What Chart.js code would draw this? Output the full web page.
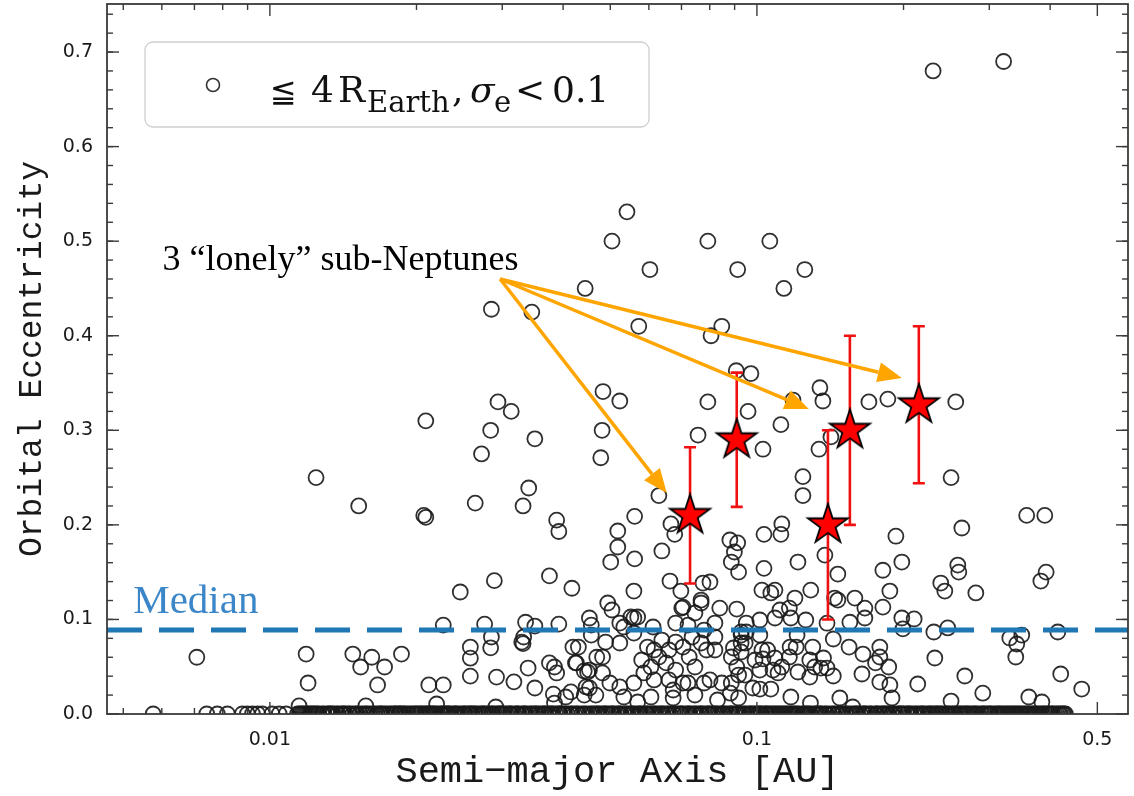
<!DOCTYPE html>
<html>
<head>
<meta charset="utf-8">
<title>Orbital eccentricity vs semi-major axis</title>
<script src="https://cdn.jsdelivr.net/npm/chart.js@4.4.1/dist/chart.umd.min.js"></script>
<style>
  html, body { margin: 0; padding: 0; background: #fff; }
  #wrap { width: 1134px; height: 796px; }
</style>
</head>
<body>
<div id="wrap"><canvas id="chart" width="1134" height="796"></canvas></div>
<script>
// Planets <= 4 R_Earth with sigma_e < 0.1 : [semi-major axis (AU), eccentricity]
const eccPlanets = [
  [0.23,0.68],[0.321,0.69],
  [0.0541,0.531],[0.0504,0.50],[0.0793,0.50],[0.1063,0.50],
  [0.0603,0.47],[0.0913,0.47],[0.1254,0.47],[0.0444,0.45],[0.1136,0.45],
  [0.0285,0.428],[0.0345,0.425],[0.0572,0.41],[0.0847,0.41],[0.0805,0.40],
  [0.0907,0.363],[0.0972,0.36],[0.0483,0.341],[0.0523,0.331],[0.1186,0.332],
  [0.1347,0.345],[0.1366,0.331],[0.0793,0.33],[0.0959,0.32],[0.112,0.306],
  [0.0481,0.30],[0.0757,0.295],[0.1029,0.28],[0.0478,0.271],[0.0629,0.231],
  [0.1243,0.251],[0.1243,0.231],[0.1341,0.28],[0.1419,0.293],[0.1698,0.33],
  [0.1857,0.333],[0.256,0.33],[0.2504,0.25],[0.0561,0.209],[0.0388,0.205],
  [0.0294,0.33],[0.0313,0.32],[0.0209,0.31],[0.0284,0.30],[0.035,0.291],
  [0.0272,0.275],[0.01244,0.25],[0.01522,0.22],[0.0207,0.21],[0.0209,0.208],
  [0.0264,0.223],[0.0331,0.22],[0.034,0.239],[0.0392,0.193],[0.0375,0.146],
  [0.0289,0.141],[0.0246,0.129],[0.0417,0.133],[0.0227,0.094],[0.0276,0.095],
  [0.0335,0.097],[0.035,0.093],[0.0392,0.095],[0.0453,0.1015],[0.0457,0.094],
  [0.0457,0.0835],[0.0285,0.0814],[0.0284,0.07],[0.0258,0.0708],[0.0258,0.059],
  [0.0258,0.04],[0.0292,0.039],[0.0317,0.034],[0.035,0.0275],[0.0339,0.0486],
  [0.0329,0.076],[0.0331,0.0745],[0.0332,0.0814],[0.0384,0.0497],[0.0382,0.021],
  [0.0384,0.0116],[0.0419,0.0708],[0.043,0.0708],[0.0424,0.054],[0.0442,0.0455],
  [0.0449,0.0444],[0.0442,0.02],[0.0453,0.0275],[0.0469,0.06],[0.01187,0.0634],
  [0.01198,0.0328],[0.0148,0.0634],[0.01536,0.0497],[0.01619,0.06],[0.0172,0.0497],
  [0.01664,0.0307],[0.01863,0.0634],[0.0212,0.0307],[0.0227,0.0307],[0.022,0.0106],
  [0.0291,0.0074],[0.01148,0.0085],[0.01574,0.0085],[0.00708,0.06],
  [0.0518,0.1935],[0.0666,0.201],[0.0678,0.19],[0.0518,0.1766],[0.0501,0.1607],
  [0.0561,0.164],[0.0638,0.1724],[0.0559,0.13],[0.0663,0.1406],[0.0698,0.13],
  [0.0775,0.1385],[0.0801,0.1396],[0.088,0.184],[0.0913,0.181],[0.0899,0.1713],
  [0.0886,0.1607],[0.0917,0.15],[0.1034,0.19],[0.112,0.19],[0.1125,0.201],
  [0.1034,0.154],[0.1214,0.1607],[0.1379,0.168],[0.1466,0.148],[0.1929,0.188],
  [0.1984,0.1607],[0.1814,0.152],[0.1875,0.13],[0.2635,0.1967],[0.358,0.21],
  [0.39,0.21],[0.2585,0.1575],[0.2597,0.15],[0.2385,0.1385],[0.2431,0.13],
  [0.2815,0.128],[0.3925,0.15],[0.3828,0.1406],[0.0559,0.1015],[0.0494,0.1174],
  [0.0504,0.11],[0.0551,0.1026],[0.0705,0.113],[0.0768,0.1205],[0.0839,0.112],
  [0.0909,0.111],[0.1024,0.131],[0.1089,0.131],[0.1068,0.128],[0.129,0.131],
  [0.1197,0.1226],[0.1466,0.1205],[0.1589,0.1226],[0.1666,0.112],[0.1666,0.1015],
  [0.1814,0.113],[0.1552,0.097],[0.126,0.0994],[0.1393,0.096],[0.1984,0.1015],
  [0.2103,0.1005],[0.1994,0.09],[0.2308,0.0867],[0.2465,0.091],[0.2319,0.0592],
  [0.2672,0.0402],[0.2139,0.0317],[0.2909,0.022],[0.2504,0.0137],[0.3305,0.0804],
  [0.3498,0.0835],[0.3416,0.074],[0.34,0.0603],[0.4148,0.0867],[0.4205,0.0423],
  [0.4644,0.0264],[0.3616,0.018],[0.3847,0.0127],[0.1788,0.0708],[0.1788,0.0603],
  [0.1865,0.0497],[0.1752,0.054],[0.1788,0.0338],[0.1875,0.0307],[0.1894,0.0169],
  [0.1651,0.0634],[0.1643,0.0423],[0.1546,0.0708],[0.1435,0.0793],[0.137,0.0592],
  [0.1353,0.0486],[0.1393,0.0486],[0.1435,0.0402],[0.1302,0.0708],[0.1284,0.0571],
  [0.1314,0.0497],[0.1284,0.039],[0.1214,0.0444],[0.148,0.0169],[0.1573,0.0074],
  [0.1174,0.018],[0.1288,0.0116],[0.1209,0.0835],[0.1204,0.0708],[0.117,0.0708],
  [0.1166,0.0603],[0.1125,0.0497],[0.1089,0.0592],[0.1052,0.0677],[0.1029,0.0582],
  [0.0991,0.0571],[0.1014,0.0465],[0.1079,0.0465],[0.1105,0.0434],[0.1014,0.0264],
  [0.1068,0.0264],[0.0981,0.0275],[0.0917,0.0412],[0.0945,0.0412],[0.0909,0.0497],
  [0.0886,0.0603],[0.0895,0.0698],[0.0928,0.0751],[0.0928,0.0835],[0.0886,0.0328],
  [0.0882,0.022],[0.0917,0.0169],[0.082,0.0962],[0.082,0.0814],[0.082,0.0677],
  [0.0779,0.0888],[0.0768,0.0751],[0.0788,0.0677],[0.0736,0.0814],[0.0705,0.0708],
  [0.0726,0.0603],[0.0746,0.0497],[0.0801,0.036],[0.0779,0.0328],[0.0722,0.0328],
  [0.0746,0.0201],[0.0681,0.0465],[0.0651,0.054],[0.0629,0.0603],[0.066,0.0677],
  [0.0615,0.0677],[0.0596,0.0708],[0.0638,0.0782],[0.0681,0.0761],[0.0612,0.092],
  [0.0681,0.0962],[0.0722,0.094],[0.0701,0.112],[0.0746,0.1068],[0.0569,0.1026],
  [0.0533,0.092],[0.0606,0.0497],[0.0586,0.0434],[0.0615,0.036],[0.066,0.036],
  [0.0673,0.0254],[0.0523,0.0962],[0.0559,0.0856],[0.0523,0.0751],[0.0489,0.0761],
  [0.0482,0.0603],[0.0482,0.0434],[0.0375,0.054],[0.0388,0.0434],[0.0426,0.054],
  [0.0453,0.0465],[0.0446,0.0286],[0.0467,0.02],[0.0415,0.0233],[0.0405,0.018],
  [0.0499,0.0328],[0.0523,0.0286],[0.0533,0.018],[0.0559,0.0328],[0.0569,0.0127],
  [0.0606,0.018],[0.058,0.0571],[0.083,0.0148],[0.0847,0.0328],[0.0705,0.0328],
  [0.0673,0.0169],[0.0768,0.1174],[0.1014,0.0994],[0.1089,0.1015],[0.1115,0.11],
  [0.1166,0.112],[0.1174,0.1015],[0.1444,0.1226],[0.0951,0.0962],[0.0928,0.0867],
  [0.0951,0.0867],[0.0946,0.0751],[0.0928,0.0656],[0.1014,0.0835],[0.1024,0.0677]
];

// planets with e = 0 (semi-major axis, AU); they pile up into a solid band
const circularSemiMajor = [
  0.00576, 0.00742, 0.0078, 0.00818, 0.00878, 0.00899, 0.00921, 0.00944, 0.00965, 0.0101, 0.01045, 0.0108,
  0.0114, 0.0116, 0.0117, 0.0120, 0.0122, 0.0123, 0.0126, 0.0128, 0.0131, 0.0133, 0.0134, 0.0137,
  0.0140, 0.0142, 0.0145, 0.0148, 0.0150, 0.0151, 0.0155, 0.0157, 0.0160, 0.0164, 0.0166, 0.0169,
  0.0172, 0.0176, 0.0178, 0.0181, 0.0185, 0.0189, 0.0191, 0.0195, 0.0199, 0.0202, 0.0205, 0.0210,
  0.0213, 0.0216, 0.0221, 0.0225, 0.0229, 0.0233, 0.0238, 0.0241, 0.0246, 0.0251, 0.0255, 0.0259,
  0.0264, 0.0270, 0.0274, 0.0279, 0.0285, 0.0289, 0.0295, 0.0300, 0.0306, 0.0311, 0.0317, 0.0322,
  0.0329, 0.0334, 0.0341, 0.0347, 0.0352, 0.0360, 0.0366, 0.0373, 0.0379, 0.0386, 0.0393, 0.0400,
  0.0408, 0.0414, 0.0422, 0.0430, 0.0437, 0.0446, 0.0453, 0.0462, 0.0470, 0.0479, 0.0487, 0.0496,
  0.0505, 0.0515, 0.0523, 0.0534, 0.0543, 0.0553, 0.0563, 0.0574, 0.0583, 0.0594, 0.0605, 0.0616,
  0.0627, 0.0639, 0.0650, 0.0663, 0.0674, 0.0687, 0.0699, 0.0712, 0.0725, 0.0739, 0.0752, 0.0766,
  0.0780, 0.0794, 0.0809, 0.0823, 0.0839, 0.0854, 0.0869, 0.0886, 0.0901, 0.0918, 0.0935, 0.0952,
  0.0969, 0.0987, 0.1005, 0.1023, 0.1042, 0.1061, 0.108, 0.110, 0.112, 0.114, 0.116, 0.118,
  0.120, 0.122, 0.125, 0.127, 0.129, 0.132, 0.134, 0.136, 0.139, 0.141, 0.144, 0.147,
  0.149, 0.152, 0.155, 0.157, 0.160, 0.163, 0.166, 0.169, 0.172, 0.176, 0.179, 0.182,
  0.185, 0.189, 0.192, 0.196, 0.199, 0.203, 0.206, 0.210, 0.214, 0.218, 0.222, 0.226,
  0.230, 0.234, 0.238, 0.243, 0.247, 0.252, 0.256, 0.261, 0.266, 0.270, 0.275, 0.280,
  0.285, 0.291, 0.296, 0.301, 0.307, 0.313, 0.318, 0.324, 0.330, 0.336, 0.342, 0.348,
  0.355, 0.361, 0.368, 0.374, 0.381, 0.388, 0.395, 0.402, 0.409, 0.417, 0.424, 0.430,
  0.0115, 0.0118, 0.0119, 0.0121, 0.0124, 0.0125, 0.0129, 0.0132, 0.0135, 0.0138, 0.0141, 0.0143,
  0.0146, 0.0153, 0.0158, 0.0162, 0.0168, 0.0170, 0.0174, 0.0180, 0.0182, 0.0184, 0.0186, 0.0188,
  0.0193, 0.0197, 0.0200, 0.0204, 0.0207, 0.0209, 0.0212, 0.0214, 0.0217, 0.0219, 0.0224, 0.0227,
  0.0230, 0.0232, 0.0235, 0.0240, 0.0243, 0.0249, 0.0252, 0.0257, 0.0260, 0.0263, 0.0267, 0.0273,
  0.0276, 0.0282, 0.0286, 0.0292, 0.0296, 0.0299, 0.0303, 0.0310, 0.0313, 0.0321, 0.0324, 0.0332,
  0.0336, 0.0344, 0.0351, 0.0356, 0.0364, 0.0368, 0.0377, 0.0381, 0.0390, 0.0394, 0.0403, 0.0417,
  0.0427, 0.0442, 0.0458, 0.0468, 0.0474, 0.0485, 0.0491, 0.0502, 0.0508, 0.0520, 0.0526, 0.0538,
  0.0551, 0.0557, 0.0570, 0.0577, 0.0590, 0.0597, 0.0611, 0.0619, 0.0633, 0.0641, 0.0656, 0.0679,
  0.0695, 0.0703, 0.0720, 0.0728, 0.0746, 0.0763, 0.0772, 0.0791, 0.0800, 0.0819, 0.0829, 0.0848,
  0.0858, 0.0879, 0.0889, 0.0910, 0.0921, 0.0943, 0.0965, 0.0977, 0.0995, 0.101, 0.102, 0.104,
  0.105, 0.107, 0.109, 0.111, 0.113, 0.115, 0.117, 0.119, 0.121, 0.124, 0.126, 0.128,
  0.131, 0.133, 0.135, 0.138, 0.143, 0.146, 0.150, 0.153, 0.159, 0.161, 0.165, 0.167,
  0.171, 0.175, 0.177, 0.181, 0.183, 0.186, 0.190, 0.195, 0.197, 0.200, 0.204, 0.207,
  0.212, 0.217, 0.220, 0.225, 0.228, 0.233, 0.236, 0.240, 0.245, 0.249, 0.254, 0.259,
  0.263, 0.268, 0.272, 0.278, 0.282, 0.289, 0.293, 0.299, 0.303, 0.310, 0.315, 0.321,
  0.327, 0.333, 0.339, 0.345, 0.351, 0.358, 0.364, 0.371, 0.377, 0.385, 0.391, 0.399,
  0.405, 0.413, 0.420, 0.427
];

// the "lonely" sub-Neptunes
const lonelySemiMajor = [0.0729, 0.0909, 0.1399, 0.1552, 0.215];
const lonelyEcc = [0.21, 0.29, 0.20, 0.30, 0.327];
const lonelyErr = [0.072, 0.071, 0.10, 0.10, 0.083];

const medianEcc = 0.0887;

// annotation arrows (data coords)
const arrowFrom = [0.0297, 0.46];
const arrowTo = [[0.0653, 0.2337], [0.1278, 0.3225], [0.1984, 0.3553]];
const lonelyLabelAt = [0.00602, 0.4695];
const medianLabelAt = [0.00524, 0.1068];

// axes
const xRange = [0.00463, 0.578];
const yRange = [0, 0.7508];
const xTickVals = [0.01, 0.1, 0.5];
const xMinorVals = [0.005, 0.006, 0.007, 0.008, 0.009, 0.02, 0.03, 0.04, 0.05, 0.06, 0.07, 0.08, 0.09, 0.2, 0.3, 0.4];
const yTickVals = [0, 0.1, 0.2, 0.3, 0.4, 0.5, 0.6, 0.7];

const SERIF = '"Liberation Serif", "Times New Roman", serif';
const LEG = '"DejaVu Serif", serif';
const MONO = '"Liberation Mono", "DejaVu Sans Mono", monospace';

function starImage(r) {
  const s = Math.ceil(r * 2 + 4);
  const c = document.createElement('canvas');
  c.width = c.height = s;
  const g = c.getContext('2d');
  g.beginPath();
  for (let i = 0; i < 10; i++) {
    const rad = i % 2 ? r * 0.382 : r;
    const ang = -Math.PI / 2 + i * Math.PI / 5;
    g.lineTo(s / 2 + rad * Math.cos(ang), s / 2 + rad * Math.sin(ang));
  }
  g.closePath();
  g.fillStyle = '#ff0000';
  g.fill();
  g.lineWidth = 1.8;
  g.strokeStyle = '#000';
  g.stroke();
  return c;
}

function drawArrow(ctx, x0, y0, x1, y1) {
  const ang = Math.atan2(y1 - y0, x1 - x0);
  const headLen = 24, headW = 10;
  const bx = x1 - headLen * Math.cos(ang), by = y1 - headLen * Math.sin(ang);
  ctx.beginPath();
  ctx.moveTo(x0, y0);
  ctx.lineTo(bx, by);
  ctx.stroke();
  ctx.beginPath();
  ctx.moveTo(x1, y1);
  ctx.lineTo(bx + headW * Math.sin(ang), by - headW * Math.cos(ang));
  ctx.lineTo(bx - headW * Math.sin(ang), by + headW * Math.cos(ang));
  ctx.closePath();
  ctx.fill();
}

const errorBars = {
  id: 'errorBars',
  beforeDatasetDraw(chart, args) {
    if (args.index !== 2) return;
    const {ctx, scales: {x, y}} = chart;
    ctx.save();
    ctx.strokeStyle = '#f01010';
    ctx.lineWidth = 2.6;
    lonelySemiMajor.forEach((a, i) => {
      const px = x.getPixelForValue(a);
      const top = y.getPixelForValue(lonelyEcc[i] + lonelyErr[i]);
      const bot = y.getPixelForValue(lonelyEcc[i] - lonelyErr[i]);
      ctx.beginPath();
      ctx.moveTo(px, top); ctx.lineTo(px, bot);
      ctx.moveTo(px - 6, top); ctx.lineTo(px + 6, top);
      ctx.moveTo(px - 6, bot); ctx.lineTo(px + 6, bot);
      ctx.stroke();
    });
    ctx.restore();
  }
};

const decorations = {
  id: 'decorations',
  afterDatasetsDraw(chart) {
    const {ctx, chartArea: a, scales: {x, y}} = chart;
    ctx.save();

    // arrows
    ctx.strokeStyle = '#ffa500';
    ctx.fillStyle = '#ffa500';
    ctx.lineWidth = 3.5;
    const x0 = x.getPixelForValue(arrowFrom[0]), y0 = y.getPixelForValue(arrowFrom[1]);
    arrowTo.forEach(t => drawArrow(ctx, x0, y0, x.getPixelForValue(t[0]), y.getPixelForValue(t[1])));

    // annotation texts
    ctx.textBaseline = 'alphabetic';
    ctx.textAlign = 'left';
    ctx.fillStyle = '#000';
    ctx.font = '36px ' + SERIF;
    ctx.fillText('3 \u201clonely\u201d sub-Neptunes', x.getPixelForValue(lonelyLabelAt[0]), y.getPixelForValue(lonelyLabelAt[1]));
    ctx.fillStyle = '#3b86c8';
    ctx.font = '41px ' + SERIF;
    ctx.fillText('Median', x.getPixelForValue(medianLabelAt[0]), y.getPixelForValue(medianLabelAt[1]));

    // legend box
    const lx = a.left + 38, ly = a.top + 38, lw = 504, lh = 85;
    ctx.beginPath();
    ctx.roundRect(lx, ly, lw, lh, 8);
    ctx.fillStyle = 'rgba(255,255,255,0.85)';
    ctx.fill();
    ctx.strokeStyle = '#cfcfcf';
    ctx.lineWidth = 1.3;
    ctx.stroke();
    ctx.beginPath();
    ctx.arc(lx + 68, ly + 43, 6.5, 0, Math.PI * 2);
    ctx.strokeStyle = '#333';
    ctx.lineWidth = 1.6;
    ctx.stroke();
    ctx.fillStyle = '#111';
    const base = ly + 60, sub = ly + 70;
    const piece = (t, dx, yy, font) => { ctx.font = font; ctx.fillText(t, lx + dx, yy); };
    piece('\u2266', 125, base, '32px "DejaVu Sans", sans-serif');
    piece('4', 166, base, '36px ' + LEG);
    piece('R', 193, base, '36px ' + LEG);
    piece('Earth', 222, sub, '29px ' + LEG);
    piece(',', 307, base, '36px ' + LEG);
    piece('\u03c3', 325, base, 'italic 36px ' + LEG);
    piece('e', 349, sub, '29px ' + LEG);
    piece('<', 370, base, '36px ' + LEG);
    piece('0.1', 407, base, '36px ' + LEG);

    // frame and inward ticks on all sides
    ctx.strokeStyle = '#3a3a3a';
    ctx.lineWidth = 1.4;
    const seg = (ax, ay, bx, by) => { ctx.beginPath(); ctx.moveTo(ax, ay); ctx.lineTo(bx, by); ctx.stroke(); };
    xTickVals.forEach(v => { const p = x.getPixelForValue(v); seg(p, a.bottom, p, a.bottom - 12); seg(p, a.top, p, a.top + 12); });
    xMinorVals.forEach(v => { const p = x.getPixelForValue(v); seg(p, a.bottom, p, a.bottom - 6); seg(p, a.top, p, a.top + 6); });
    yTickVals.forEach(v => { const p = y.getPixelForValue(v); seg(a.left, p, a.left + 12, p); seg(a.right, p, a.right - 12, p); });
    for (let v = 0.02; v < yRange[1]; v += 0.02) {
      const p = y.getPixelForValue(v);
      seg(a.left, p, a.left + 6, p); seg(a.right, p, a.right - 6, p);
    }
    ctx.lineWidth = 1.8;
    ctx.strokeRect(a.left, a.top, a.right - a.left, a.bottom - a.top);
    ctx.restore();
  }
};

const points = eccPlanets.map(p => ({x: p[0], y: p[1]}))
  .concat(circularSemiMajor.map(v => ({x: v, y: 0})));

const data = {
  datasets: [
    {
      label: '\u2266 4 R_Earth, \u03c3_e < 0.1',
      data: points,
      pointStyle: 'circle',
      pointRadius: 7.5,
      borderWidth: 1.8,
      borderColor: 'rgba(25,25,25,0.9)',
      backgroundColor: 'rgba(0,0,0,0)',
      clip: 0,
      order: 3,
    },
    {
      type: 'line',
      label: 'Median',
      data: [{x: xRange[0], y: medianEcc}, {x: xRange[1], y: medianEcc}],
      borderColor: '#1f77b4',
      borderWidth: 5,
      borderDash: [35, 17],
      pointRadius: 0,
      order: 2,
    },
    {
      label: 'lonely sub-Neptunes',
      data: lonelySemiMajor.map((v, i) => ({x: v, y: lonelyEcc[i]})),
      pointStyle: starImage(21),
      order: 0,
    },
  ],
};

const config = {
  type: 'scatter',
  data,
  options: {
    responsive: false,
    animation: false,
    devicePixelRatio: 1,
    layout: { autoPadding: false, padding: { top: 4, right: 6, left: 0, bottom: 0 } },
    plugins: {
      legend: { display: false },
      tooltip: { enabled: false },
    },
    scales: {
      x: {
        type: 'logarithmic',
        min: xRange[0],
        max: xRange[1],
        grid: { display: false, drawTicks: false },
        border: { display: false },
        afterBuildTicks: (s) => { s.ticks = xTickVals.map(v => ({ value: v })); },
        afterFit: (s) => { s.height = 82; s.paddingLeft = 0; s.paddingRight = 0; },
        ticks: {
          autoSkip: false,
          maxRotation: 0,
          padding: 15,
          color: '#1a1a1a',
          font: { family: '"DejaVu Sans", sans-serif', size: 19 },
          callback: (v) => String(v),
        },
        title: {
          display: true,
          text: 'Semi\u2212major Axis [AU]',
          color: '#1a1a1a',
          font: { family: MONO, size: 37, lineHeight: 1 },
          padding: { top: 0, bottom: 5 },
        },
      },
      y: {
        type: 'linear',
        min: yRange[0],
        max: yRange[1],
        grid: { display: false, drawTicks: false },
        border: { display: false },
        afterBuildTicks: (s) => { s.ticks = yTickVals.map(v => ({ value: v })); },
        afterFit: (s) => { s.width = 107; s.paddingTop = 0; s.paddingBottom = 0; },
        ticks: {
          padding: 14,
          color: '#1a1a1a',
          font: { family: '"DejaVu Sans", sans-serif', size: 19 },
          callback: (v) => Number(v).toFixed(1),
        },
        title: {
          display: true,
          text: 'Orbital Eccentricity',
          color: '#1a1a1a',
          font: { family: MONO, size: 33, lineHeight: 1 },
          padding: { top: 16, bottom: 0 },
        },
      },
    },
  },
  plugins: [errorBars, decorations],
};

const myChart = new Chart(document.getElementById('chart').getContext('2d'), config);
</script>
</body>
</html>
